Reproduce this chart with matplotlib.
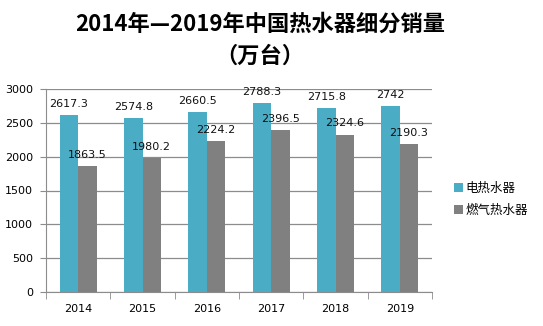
import matplotlib
matplotlib.use("Agg")
import matplotlib.pyplot as plt
import numpy as np

plt.rcParams['font.family'] = ['Noto Sans CJK SC', 'DejaVu Sans']

years = ['2014', '2015', '2016', '2017', '2018', '2019']
electric = [2617.3, 2574.8, 2660.5, 2788.3, 2715.8, 2742]
gas = [1863.5, 1980.2, 2224.2, 2396.5, 2324.6, 2190.3]
electric_labels = ['2617.3', '2574.8', '2660.5', '2788.3', '2715.8', '2742']
gas_labels = ['1863.5', '1980.2', '2224.2', '2396.5', '2324.6', '2190.3']
series_names = ['电热水器', '燃气热水器']
title_line1 = '2014年—2019年中国热水器细分销量'
title_line2 = '（万台）'

W, H = 543, 326
fig = plt.figure(figsize=(W/100, H/100), dpi=100)
ax = fig.add_axes([46/W, 1-292/H, (432-46)/W, (292-89)/H])

x = np.arange(len(years))
bw = 0.285
c1 = '#4BACC6'
c2 = '#808080'
b1 = ax.bar(x - bw/2, electric, bw, color=c1, label=series_names[0], zorder=3)
b2 = ax.bar(x + bw/2, gas, bw, color=c2, label=series_names[1], zorder=3)

for xi, v, s in zip(x, electric, electric_labels):
    ax.annotate(s, (xi - bw/2, v), xytext=(0, 4.5), textcoords='offset points',
                ha='center', va='bottom', fontsize=8, family='DejaVu Sans', color='#111111', zorder=5)
for xi, v, s in zip(x, gas, gas_labels):
    ax.annotate(s, (xi + bw/2, v), xytext=(0, 4.5), textcoords='offset points',
                ha='center', va='bottom', fontsize=8, family='DejaVu Sans', color='#111111', zorder=5)

ax.set_xlim(-0.5, len(years) - 0.5)
ax.set_ylim(0, 3000)
ax.set_yticks(np.arange(0, 3001, 500))
ax.yaxis.grid(True, color='#8c8c8c', linewidth=0.9, zorder=0)
ax.set_axisbelow(True)
for sp in ['top', 'right']:
    ax.spines[sp].set_visible(False)
ax.spines['left'].set_color('#8c8c8c')
ax.spines['bottom'].set_color('#8c8c8c')
ax.tick_params(axis='y', length=4.3, color='#8c8c8c', labelsize=8, pad=5)
ax.set_xticks(x)
ax.set_xticklabels(years, fontsize=8, family='DejaVu Sans')
ax.tick_params(axis='x', length=0, pad=9)
ax.set_xticks(np.arange(-0.5, len(years)), minor=True)
ax.tick_params(axis='x', which='minor', length=5, color='#8c8c8c')
for lab in ax.get_yticklabels():
    lab.set_family('DejaVu Sans')

fig.text(260/W, 1-24/H, title_line1, ha='center', va='center', fontsize=16,
         fontweight='bold')
fig.text(260/W, 1-56/H, title_line2, ha='center', va='center', fontsize=16,
         fontweight='bold')

leg = fig.legend(handles=[b1, b2], loc='center left', bbox_to_anchor=(443/W, 1-199.5/H),
                 frameon=False, fontsize=9, handlelength=0.7, handleheight=0.7,
                 handletextpad=0.2, labelspacing=0.75)

fig.savefig('out.png', dpi=100)
